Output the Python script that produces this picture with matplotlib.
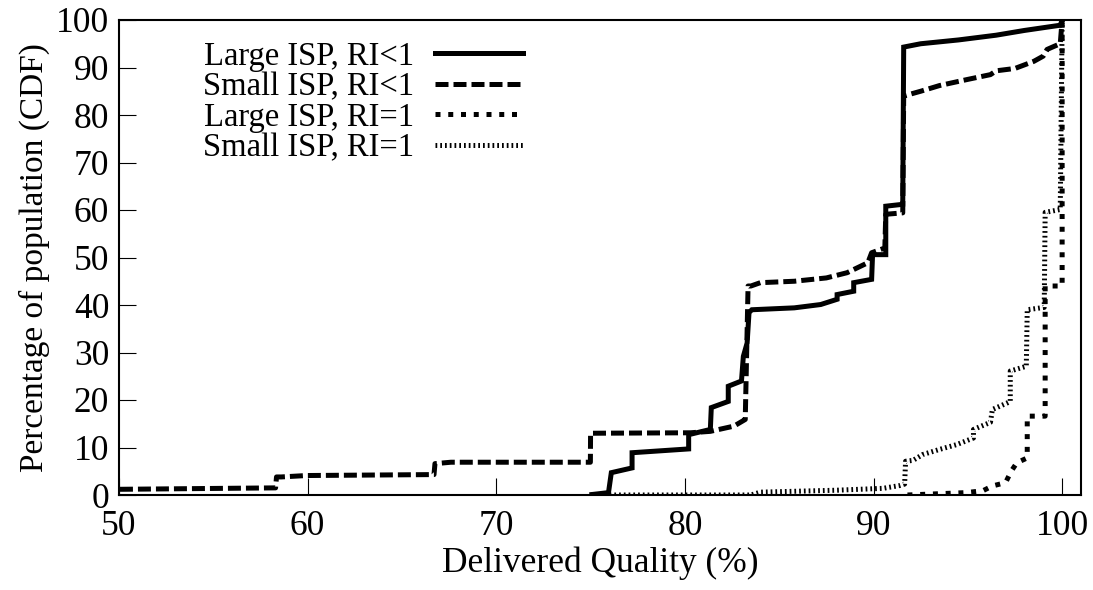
import matplotlib
matplotlib.use("Agg")
import matplotlib.pyplot as plt

plt.rcParams['font.family'] = ['Liberation Serif', 'DejaVu Serif']

# ---- data ----
large_lt1_x = [75.07, 75.95, 76.1, 77.2, 77.2, 80.2, 80.2, 81.35, 81.4, 82.3, 82.3, 83.0, 83.1, 83.3, 83.4,
               83.55, 85.8, 87.2, 88.07, 88.07, 88.95, 88.95, 89.9, 89.95, 90.65, 90.65, 91.55, 91.6,
               92.5, 94.5, 96.5, 98.0, 99.9, 100.0]
large_lt1_y = [0.1, 0.5, 4.7, 5.7, 8.9, 9.7, 12.7, 13.8, 18.4, 19.7, 22.9, 24.0, 29.2, 32.0, 38.4,
               39.0, 39.4, 40.1, 41.2, 42.2, 42.9, 44.7, 45.4, 50.6, 50.6, 60.8, 61.2, 94.3,
               95.0, 95.8, 96.8, 97.8, 98.9, 100.0]

small_lt1_x = [50.05, 58.3, 58.35, 58.6, 59.95, 66.7, 66.75, 67.6, 74.99, 75.0, 80.3, 81.35, 82.6, 83.2,
               83.35, 83.5, 84.0, 85.8, 87.5, 88.6, 89.7, 89.9, 90.6, 90.65, 91.55, 91.6,
               92.5, 93.5, 95.0, 96.2, 96.5, 97.5, 98.5, 99.0, 99.2, 99.6, 99.9, 100.0]
small_lt1_y = [1.2, 1.5, 3.8, 3.8, 4.1, 4.3, 6.6, 6.9, 6.9, 13.0, 13.1, 13.4, 14.5, 15.9,
               44.0, 44.0, 44.7, 45.0, 45.7, 46.8, 48.9, 51.0, 52.0, 59.1, 59.4, 84.0,
               85.0, 86.2, 87.5, 88.5, 89.3, 89.8, 91.3, 92.4, 93.8, 94.5, 95.0, 100.0]

large_eq1_x = [91.8, 94.9, 95.8, 96.3, 97.0, 97.3, 97.6, 98.15, 98.15, 99.1, 99.1, 100.0, 100.0]
large_eq1_y = [0.0, 0.5, 0.9, 1.9, 2.6, 5.0, 6.8, 7.8, 16.6, 16.6, 44.0, 44.0, 100.0]

small_eq1_x = [75.0, 83.5, 84.0, 88.0, 90.5, 91.4, 91.65, 91.7, 92.1, 92.6, 93.5, 94.4, 95.3, 95.3,
               96.2, 96.3, 97.1, 97.25, 97.25, 98.1, 98.15, 99.05, 99.1, 99.9, 100.0]
small_eq1_y = [0.0, 0.0, 0.6, 1.0, 1.4, 2.0, 2.3, 7.1, 7.3, 8.5, 9.6, 10.6, 12.0, 13.8,
               15.3, 18.0, 19.4, 19.7, 26.1, 27.1, 39.0, 39.5, 59.5, 60.1, 100.0]

labels = ["Large ISP, RI<1", "Small ISP, RI<1", "Large ISP, RI=1", "Small ISP, RI=1"]
x_ticks = [50, 60, 70, 80, 90, 100]
y_ticks = [0, 10, 20, 30, 40, 50, 60, 70, 80, 90, 100]

# ---- figure ----
fig = plt.figure(figsize=(10.93, 5.90), dpi=100)
ax = fig.add_axes([119/1093, 1 - 495/590, (1081 - 119)/1093, (495 - 20)/590])

lw = 3.6
ax.plot(large_lt1_x, large_lt1_y, color='black', lw=lw, linestyle='-', label=labels[0],
        solid_joinstyle='miter')
ax.plot(small_lt1_x, small_lt1_y, color='black', lw=lw, linestyle=(0, (2.6, 1.0)), label=labels[1])
ax.plot(large_eq1_x, large_eq1_y, color='black', lw=lw, linestyle=(0, (1.0, 1.55)), label=labels[2])
ax.plot(small_eq1_x, small_eq1_y, color='black', lw=lw, linestyle=(0, (0.35, 0.6)), label=labels[3])

ax.set_xlim(50, 101)
ax.set_ylim(0, 100)
ax.set_xticks(x_ticks)
ax.set_yticks(y_ticks)
ax.tick_params(direction='in', length=12, width=0.8, labelsize=25.5)
ax.tick_params(axis='x', pad=11)
ax.tick_params(axis='y', pad=7)
for s in ax.spines.values():
    s.set_linewidth(1.5)

ax.set_xlabel("Delivered Quality (%)", fontsize=25.5, labelpad=2)
ax.set_ylabel("Percentage of population (CDF)", fontsize=24, labelpad=4)

leg = ax.legend(loc='upper left', bbox_to_anchor=(0.065, 1.0), frameon=False, markerfirst=False,
                fontsize=23.5, handlelength=2.7, handletextpad=0.65, labelspacing=0.0,
                borderaxespad=0.25)

fig.savefig("out.png", dpi=100)
